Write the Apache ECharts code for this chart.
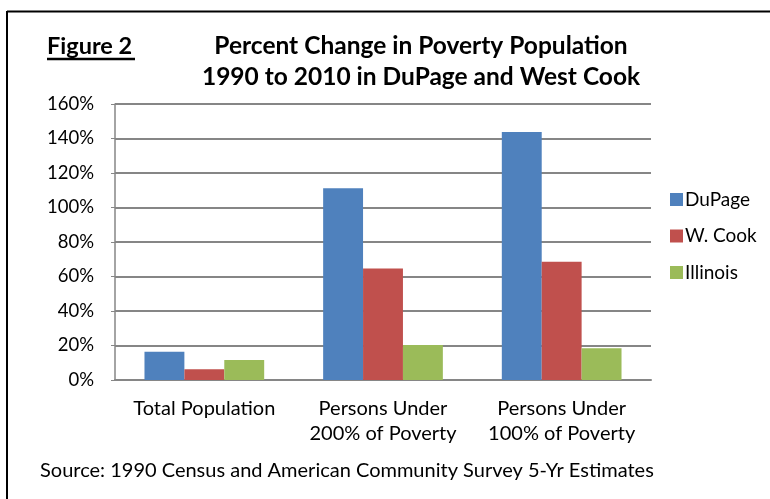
<!DOCTYPE html>
<html><head><meta charset="utf-8">
<script src="https://cdn.jsdelivr.net/npm/echarts@6/dist/echarts.min.js"></script>
<style>html,body{margin:0;padding:0;background:#fff}#c{width:770px;height:499px}</style>
</head><body><div id="c"></div>
<script>
var categories = ['Total Population', 'Persons Under\n200% of Poverty', 'Persons Under\n100% of Poverty'];
var dupage = [0.164, 1.111, 1.438];
var wcook = [0.062, 0.647, 0.686];
var illinois = [0.116, 0.203, 0.184];
var seriesNames = ['DuPage', 'W. Cook', 'Illinois'];
var yTicks = {min: 0, max: 1.6, interval: 0.2};
var FONT = 'Lato';

var chart = echarts.init(document.getElementById('c'), null, {renderer: 'canvas'});
chart.setOption({
  animation: false,
  backgroundColor: '#fff',
  textStyle: {fontFamily: FONT},
  title: {
    text: 'Percent Change in Poverty Population\n1990 to 2010 in DuPage and West Cook',
    left: 416, top: 26, textAlign: 'center',
    textStyle: {fontFamily: FONT, fontWeight: 'bold', fontSize: 24.5, lineHeight: 31, color: '#000'}
  },
  legend: {
    orient: 'vertical', left: 665, top: 185,
    itemWidth: 13, itemHeight: 13, itemGap: 17.5,
    icon: 'rect',
    textStyle: {fontFamily: FONT, fontSize: 19, lineHeight: 19, color: '#000', padding: [0, 0, 0, -3]},
    data: seriesNames
  },
  grid: {left: 115, right: 119, top: 104, bottom: 119, containLabel: false},
  xAxis: {
    type: 'category', data: categories,
    axisLine: {lineStyle: {color: '#868686', width: 2}},
    axisTick: {show: false},
    axisLabel: {interval: 0, hideOverlap: false, fontFamily: FONT, fontSize: 20, color: '#000', lineHeight: 25, margin: 16}
  },
  yAxis: {
    type: 'value', min: yTicks.min, max: yTicks.max, interval: yTicks.interval,
    axisLine: {show: true, lineStyle: {color: '#868686', width: 1.5}},
    axisTick: {show: true, length: 4, lineStyle: {color: '#868686'}},
    splitLine: {lineStyle: {color: '#868686', width: 2}},
    axisLabel: {fontFamily: FONT, fontSize: 18.5, color: '#000', margin: 21,
      formatter: function (v) { return Math.round(v * 100) + '%'; }}
  },
  series: [
    {name: seriesNames[0], type: 'bar', data: dupage, itemStyle: {color: '#4F81BD'}, barGap: '0%', barCategoryGap: '33%'},
    {name: seriesNames[1], type: 'bar', data: wcook, itemStyle: {color: '#C0504D'}},
    {name: seriesNames[2], type: 'bar', data: illinois, itemStyle: {color: '#9BBB59'}}
  ],
  graphic: [
    {type: 'line', shape: {x1: 7, y1: 11.5, x2: 770, y2: 11.5}, style: {stroke: '#000', lineWidth: 2}},
    {type: 'line', shape: {x1: 7, y1: 11, x2: 7, y2: 499}, style: {stroke: '#000', lineWidth: 2}},
    {type: 'text', left: 47, top: 34, style: {text: 'Figure 2', font: 'bold 23.5px ' + FONT, fill: '#000'}},
    {type: 'line', shape: {x1: 47, y1: 59, x2: 135, y2: 59}, style: {stroke: '#000', lineWidth: 2.5}},
    {type: 'text', left: 40, top: 461, style: {text: 'Source: 1990 Census and American Community Survey 5-Yr Estimates', font: '20px ' + FONT, fill: '#000'}}
  ]
});
</script></body></html>
